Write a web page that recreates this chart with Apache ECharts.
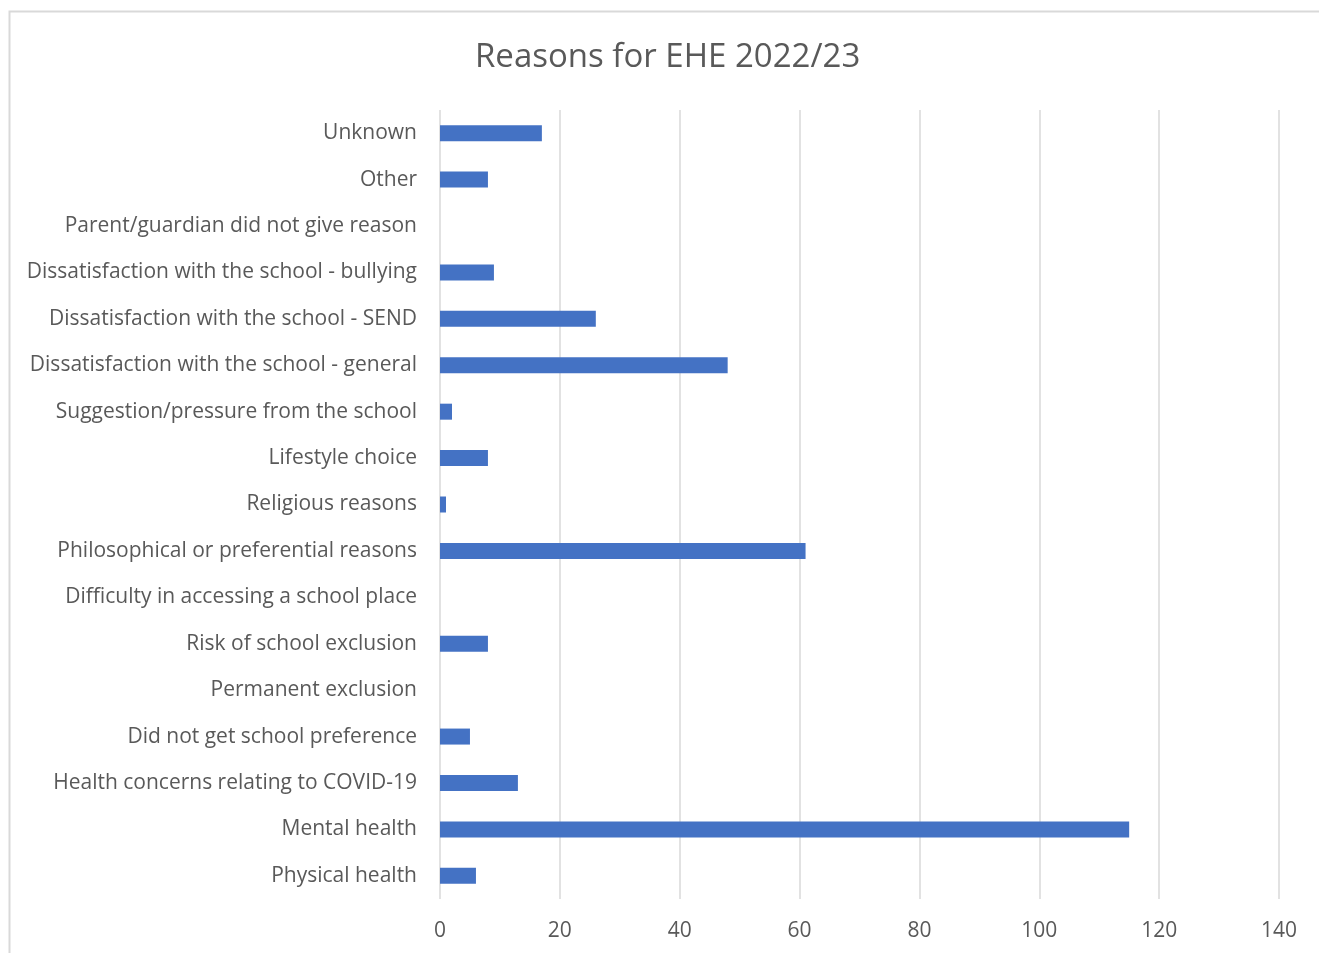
<!DOCTYPE html>
<html><head><meta charset="utf-8">
<script src="https://cdn.jsdelivr.net/npm/echarts@6/dist/echarts.min.js"></script>
<style>html,body{margin:0;padding:0;background:#fff}#c{width:1319px;height:953px}</style>
</head><body><div id="c"></div>
<script>
const categories = [
  "Physical health",
  "Mental health",
  "Health concerns relating to COVID-19",
  "Did not get school preference",
  "Permanent exclusion",
  "Risk of school exclusion",
  "Difficulty in accessing a school place",
  "Philosophical or preferential reasons",
  "Religious reasons",
  "Lifestyle choice",
  "Suggestion/pressure from the school",
  "Dissatisfaction with the school - general",
  "Dissatisfaction with the school - SEND",
  "Dissatisfaction with the school - bullying",
  "Parent/guardian did not give reason",
  "Other",
  "Unknown"
];
const values = [6, 115, 13, 5, 0, 8, 0, 61, 1, 8, 2, 48, 26, 9, 0, 8, 17];
const titleText = "Reasons for EHE 2022/23";

const chart = echarts.init(document.getElementById('c'), null, {renderer: 'canvas'});
const font = '"Open Sans", "Noto Sans", sans-serif';
chart.setOption({
  animation: false,
  backgroundColor: '#fff',
  textStyle: {fontFamily: font},
  graphic: [{
    type: 'rect', left: 7, top: 9, z: -1,
    shape: {width: 1400, height: 1000},
    style: {fill: 'none', stroke: '#d9d9d9', lineWidth: 2}
  }],
  title: {
    text: titleText, left: 470, top: 36,
    textStyle: {fontFamily: font, fontSize: 33, fontWeight: 'normal', color: '#595959'}
  },
  grid: {left: 440, right: 40, top: 110, bottom: 54, containLabel: false},
  xAxis: {
    type: 'value', min: 0, max: 140, interval: 20,
    axisLine: {show: false}, axisTick: {show: false},
    splitLine: {lineStyle: {color: '#d9d9d9', width: 1.5}},
    axisLabel: {color: '#595959', fontSize: 21, margin: 22, fontFamily: font}
  },
  yAxis: {
    type: 'category', data: categories,
    axisLine: {show: false}, axisTick: {show: false},
    axisLabel: {color: '#595959', fontSize: 21, margin: 23, fontFamily: font}
  },
  series: [{
    type: 'bar', data: values, barWidth: 16,
    itemStyle: {color: '#4472C4', borderWidth: 0}
  }]
});
</script></body></html>
